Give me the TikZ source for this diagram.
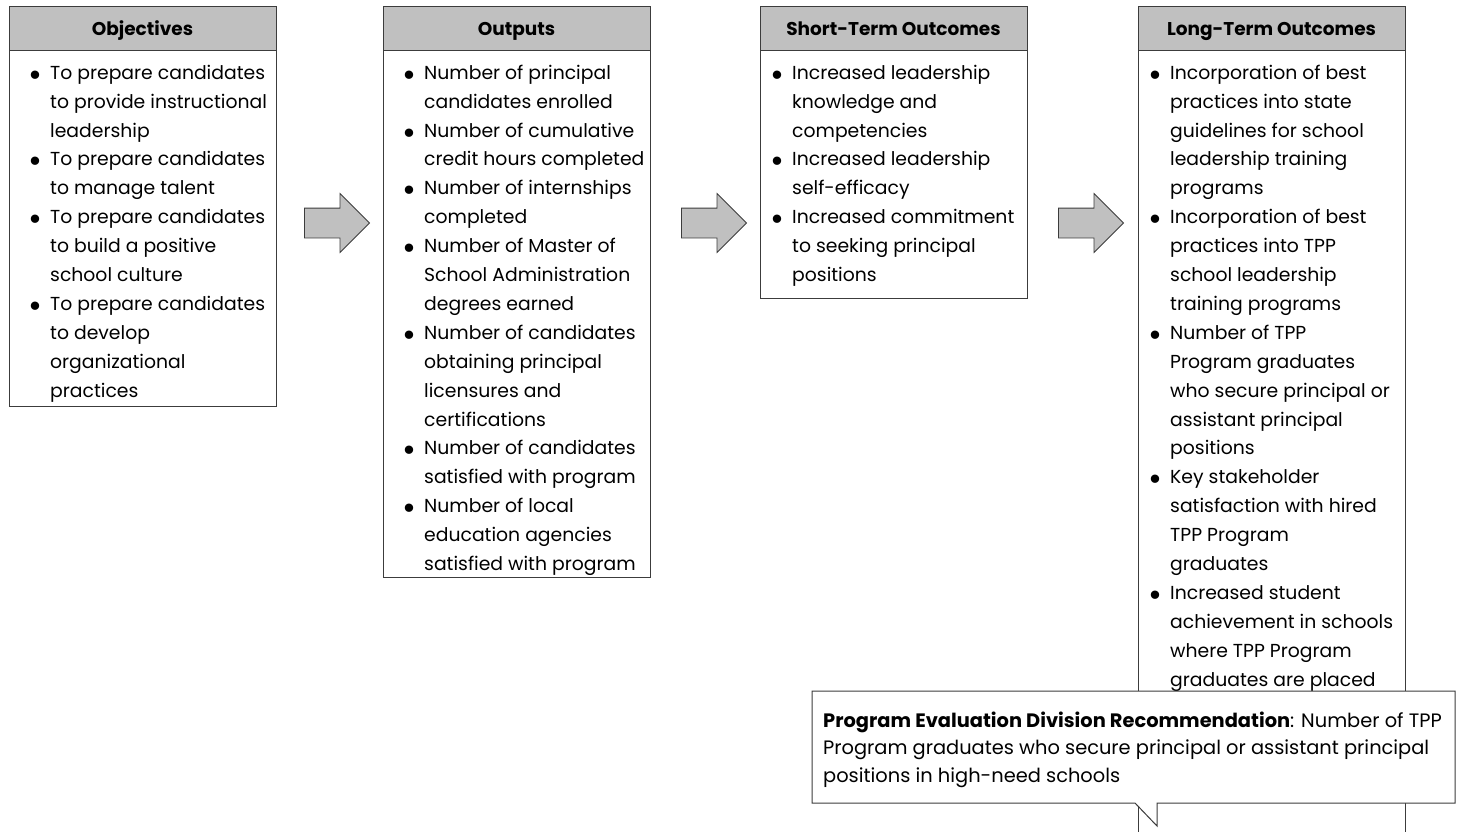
\documentclass[tikz,border=0pt]{standalone}
\usepackage{fontspec}
\setmainfont{Poppins}
\usetikzlibrary{shapes.arrows,positioning}

\definecolor{hdrgray}{RGB}{192,192,192}
\definecolor{edgegray}{RGB}{60,60,60}

\newcommand{\itm}{\makebox[22pt][l]{\raisebox{-7pt}{\scalebox{1.8}{\textbullet}}}}
\newcommand{\cnt}{\hspace*{22pt}}

\tikzset{
  hdr/.style={draw=edgegray, line width=1pt, fill=hdrgray, minimum width=267pt, minimum height=44pt,
    inner sep=0pt, outer sep=0pt, anchor=north west, text height=13pt, text depth=0pt,
    font=\fontsize{18.5}{22}\selectfont\bfseries},
  bodybox/.style={draw=edgegray, line width=1pt, minimum width=267pt, inner sep=0pt, outer sep=0pt, anchor=north},
  txt/.style={align=left, inner sep=0pt, anchor=north west, font=\fontsize{18.8}{28.9}\selectfont},
  blockarr/.style={single arrow, draw=edgegray, fill=hdrgray, line width=0.8pt, minimum height=65pt,
    inner xsep=0pt, inner ysep=14.5pt, single arrow head extend=14.5pt},
  callout/.style={draw=edgegray, line width=1pt, fill=white}
}

\begin{document}
\begin{tikzpicture}[x=1pt,y=-1pt]
\useasboundingbox (0,0) rectangle (1460,832);

% objectives
\node[hdr] (objhdr) at (9,7) {Objectives};
\node[bodybox, minimum height=355pt] (objbox) at (objhdr.south) {};
\node[txt] (objtxt) at ([xshift=19pt]objbox.north west) {\rule{0pt}{28pt}\itm To prepare candidates\\
  \cnt to provide instructional\\ \cnt leadership\\
  \itm To prepare candidates\\ \cnt to manage talent\\
  \itm To prepare candidates\\ \cnt to build a positive\\ \cnt school culture\\
  \itm To prepare candidates\\ \cnt to develop\\ \cnt organizational\\ \cnt practices};

% outputs
\node[hdr] (outhdr) at (383,7) {Outputs};
\node[bodybox, minimum height=526pt] (outbox) at (outhdr.south) {};
\node[txt] (outtxt) at ([xshift=19pt]outbox.north west) {\rule{0pt}{28pt}\itm Number of principal\\
  \cnt candidates enrolled\\
  \itm Number of cumulative\\ \cnt credit hours completed\\
  \itm Number of internships\\ \cnt completed\\
  \itm Number of Master of\\ \cnt School Administration\\ \cnt degrees earned\\
  \itm Number of candidates\\ \cnt obtaining principal\\ \cnt licensures and\\ \cnt certifications\\
  \itm Number of candidates\\ \cnt satisfied with program\\
  \itm Number of local\\ \cnt education agencies\\ \cnt satisfied with program};

% short-term
\node[hdr] (shorthdr) at (760,7) {Short-Term Outcomes};
\node[bodybox, minimum height=247pt] (shortbox) at (shorthdr.south) {};
\node[txt] (shorttxt) at ([xshift=10pt]shortbox.north west) {\rule{0pt}{28pt}\itm Increased leadership\\
  \cnt knowledge and\\ \cnt competencies\\
  \itm Increased leadership\\ \cnt self-efficacy\\
  \itm Increased commitment\\ \cnt to seeking principal\\ \cnt positions};

% long-term
\node[hdr] (longhdr) at (1138,7) {Long-Term Outcomes};
\node[bodybox, minimum height=800pt] (longbox) at (longhdr.south) {};
\node[txt] (longtxt) at ([xshift=10pt]longbox.north west) {\rule{0pt}{28pt}\itm Incorporation of best\\
  \cnt practices into state\\ \cnt guidelines for school\\ \cnt leadership training\\ \cnt programs\\
  \itm Incorporation of best\\ \cnt practices into TPP\\ \cnt school leadership\\ \cnt training programs\\
  \itm Number of TPP\\ \cnt Program graduates\\ \cnt who secure principal or\\ \cnt assistant principal\\ \cnt positions\\
  \itm Key stakeholder\\ \cnt satisfaction with hired\\ \cnt TPP Program\\ \cnt graduates\\
  \itm Increased student\\ \cnt achievement in schools\\ \cnt where TPP Program\\ \cnt graduates are placed};

% block arrows
\node[blockarr] (arr1) at (329.5,223) {};
\node[blockarr] (arr2) at (706.5,223) {};
\node[blockarr] (arr3) at (1083.5,223) {};

% recommendation callout
\coordinate (pednw) at (812,691);
\coordinate (pedse) at (1455,803);
\coordinate (ptra) at (1135,803);
\coordinate (ptrtip) at (1157,826);
\coordinate (ptrb) at (1157,803);
\draw[callout] (pednw) -- (pednw -| pedse) -- (pedse) -- (ptrb) -- (ptrtip) -- (ptra) -- (pednw |- pedse) -- cycle;
\node[txt, font=\fontsize{19.4}{27.5}\selectfont] (pedtxt) at ([xshift=11pt]pednw) {\rule{0pt}{36pt}\textbf{Program Evaluation Division Recommendation}: Number of TPP\\
  Program graduates who secure principal or assistant principal\\
  positions in high-need schools};

\end{tikzpicture}
\end{document}
